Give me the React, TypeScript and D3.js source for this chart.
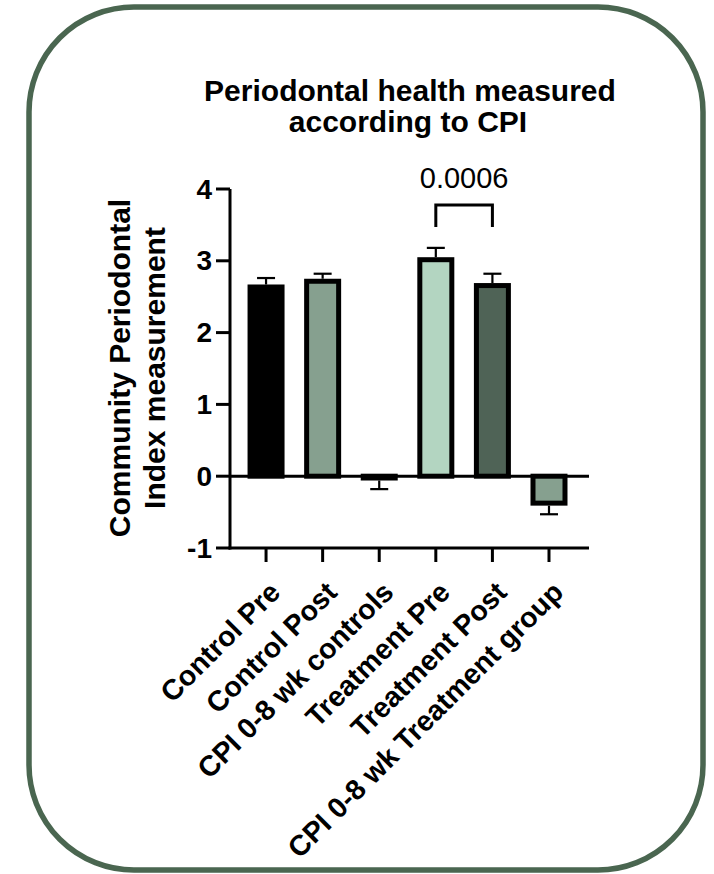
import * as d3 from "d3";

const categories = [
  "Control Pre",
  "Control Post",
  "CPI 0-8 wk controls",
  "Treatment Pre",
  "Treatment Post",
  "CPI 0-8 wk Treatment group",
];
const means = [2.67, 2.75, -0.06, 3.05, 2.69, -0.41];
const sems = [0.09, 0.07, 0.12, 0.13, 0.13, 0.12];
const fills = ["#000000", "#86a08f", "#86a08f", "#b3d5c1", "#4f6356", "#86a08f"];
const yTicks = [-1, 0, 1, 2, 3, 4];
const pValue = "0.0006";
const compared = ["Treatment Pre", "Treatment Post"];

const font = "Liberation Sans, Arial, Helvetica, sans-serif";

export default function App() {
  const width = 714;
  const height = 874;

  const x0 = 230;
  const x1 = 589;
  const y = d3.scaleLinear().domain([-1, 4]).range([548, 189]);
  const x = d3
    .scalePoint<string>()
    .domain(categories)
    .range([x0, x1])
    .padding(0.672)
    .align(0.474);

  const barW = 32;
  const sw = 5;
  const tick = 14;

  const bx1 = x(compared[0])!;
  const bx2 = x(compared[1])!;

  return (
    <svg
      width={width}
      height={height}
      style={{ position: "absolute", left: 0, top: 0, background: "#fff" }}
      fontFamily={font}
    >
      <rect
        x={29}
        y={7}
        width={674}
        height={863}
        rx={105}
        ry={105}
        fill="#fff"
        stroke="#4a6650"
        strokeWidth={5.5}
      />

      {/* title */}
      <text x={410} y={101} textAnchor="middle" fontSize={30} fontWeight="bold">
        Periodontal health measured
      </text>
      <text x={408} y={132} textAnchor="middle" fontSize={30} fontWeight="bold">
        according to CPI
      </text>

      {/* y label */}
      <g transform="translate(130,368) rotate(-90)">
        <text x={0} y={0} textAnchor="middle" fontSize={30} fontWeight="bold">
          Community Periodontal
        </text>
        <text x={0} y={35} textAnchor="middle" fontSize={30} fontWeight="bold">
          Index measurement
        </text>
      </g>

      {/* bars */}
      {categories.map((c, i) => {
        const v = means[i];
        const cx = x(c)!;
        const top = v >= 0 ? y(v) + sw / 2 : y(0);
        const bottom = v >= 0 ? y(0) : y(v) - sw / 2;
        const errEnd = v >= 0 ? y(v + sems[i]) : y(v - sems[i]);
        return (
          <g key={c}>
            <line
              x1={cx}
              x2={cx}
              y1={y(v)}
              y2={errEnd}
              stroke="#000"
              strokeWidth={2.2}
            />
            <line
              x1={cx - 9}
              x2={cx + 9}
              y1={errEnd}
              y2={errEnd}
              stroke="#000"
              strokeWidth={2.2}
            />
            <rect
              x={cx - barW / 2}
              y={Math.min(top, bottom)}
              width={barW}
              height={Math.max(0.5, Math.abs(bottom - top))}
              fill={fills[i]}
              stroke="#000"
              strokeWidth={sw}
            />
          </g>
        );
      })}

      {/* zero line */}
      <line x1={x0} x2={x1} y1={y(0)} y2={y(0)} stroke="#000" strokeWidth={3} />

      {/* y axis */}
      <line
        x1={x0}
        x2={x0}
        y1={y(4)}
        y2={y(-1) + 1.5}
        stroke="#000"
        strokeWidth={3}
      />
      {yTicks.map((t) => (
        <g key={t}>
          <line
            x1={x0 - tick}
            x2={x0}
            y1={y(t)}
            y2={y(t)}
            stroke="#000"
            strokeWidth={3}
          />
          <text
            x={x0 - tick - 4}
            y={y(t)}
            textAnchor="end"
            dominantBaseline="central"
            fontSize={28}
            fontWeight="bold"
          >
            {t}
          </text>
        </g>
      ))}

      {/* x axis */}
      <line
        x1={x0 - 1.5}
        x2={x1}
        y1={y(-1)}
        y2={y(-1)}
        stroke="#000"
        strokeWidth={3}
      />
      {categories.map((c) => (
        <g key={c}>
          <line
            x1={x(c)!}
            x2={x(c)!}
            y1={y(-1)}
            y2={y(-1) + tick}
            stroke="#000"
            strokeWidth={3}
          />
          <text
            transform={`translate(${x(c)! + 16},${y(-1) + 46}) rotate(-45)`}
            textAnchor="end"
            fontSize={28.5}
            fontWeight="bold"
          >
            {c}
          </text>
        </g>
      ))}

      {/* significance */}
      <path
        d={`M${bx1},227V205H${bx2}V227`}
        fill="none"
        stroke="#000"
        strokeWidth={3}
      />
      <text x={(bx1 + bx2) / 2} y={188} textAnchor="middle" fontSize={29}>
        {pValue}
      </text>
    </svg>
  );
}
